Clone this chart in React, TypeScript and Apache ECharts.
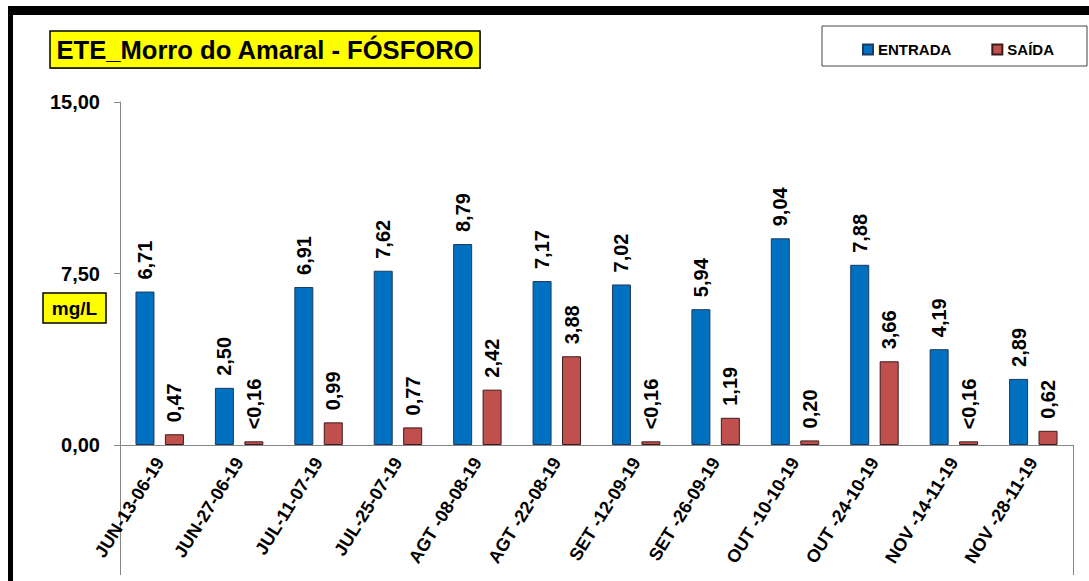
import React, { useEffect, useRef } from "react";
import * as echarts from "echarts";

const categories = [
  "JUN-13-06-19",
  "JUN-27-06-19",
  "JUL-11-07-19",
  "JUL-25-07-19",
  "AGT -08-08-19",
  "AGT -22-08-19",
  "SET -12-09-19",
  "SET -26-09-19",
  "OUT -10-10-19",
  "OUT -24-10-19",
  "NOV -14-11-19",
  "NOV -28-11-19",
];
const entrada = [6.71, 2.5, 6.91, 7.62, 8.79, 7.17, 7.02, 5.94, 9.04, 7.88, 4.19, 2.89];
const saida = [0.47, 0.16, 0.99, 0.77, 2.42, 3.88, 0.16, 1.19, 0.2, 3.66, 0.16, 0.62];
const saidaLabels = ["0,47", "<0,16", "0,99", "0,77", "2,42", "3,88", "<0,16", "1,19", "0,20", "3,66", "<0,16", "0,62"];
const seriesNames = ["ENTRADA", "SAÍDA"];
const yMin = 0;
const yMax = 15;
const yStep = 7.5;
const titleText = "ETE_Morro do Amaral - FÓSFORO";
const unitText = "mg/L";

const fmt = (v: number) => v.toFixed(2).replace(".", ",");

export default function App() {
  const ref = useRef<HTMLDivElement>(null);
  useEffect(() => {
    const chart = echarts.init(ref.current!, null, { renderer: "svg" });
    const font = 'Arial, "Liberation Sans", sans-serif';
    const labelBase = {
      show: true,
      position: "top",
      rotate: 90,
      align: "left",
      verticalAlign: "middle",
      distance: 12,
      fontSize: 20,
      fontWeight: "bold",
      color: "#000",
      fontFamily: font,
    };
    chart.setOption({
      animation: false,
      backgroundColor: "#fff",
      textStyle: { fontFamily: font },
      grid: { left: 120, right: 16, top: 102, bottom: 136, containLabel: false },
      legend: {
        left: 857,
        top: 37,
        z: 10,
        icon: "rect",
        itemWidth: 10,
        itemHeight: 10,
        itemGap: 40,
        data: seriesNames,
        textStyle: { fontSize: 15, fontWeight: "bold", color: "#000", fontFamily: font },
      },
      xAxis: {
        type: "category",
        data: categories,
        axisLine: { show: true, lineStyle: { color: "#868686", width: 1 } },
        axisTick: { show: false },
        axisLabel: {
          rotate: 58,
          interval: 0,
          fontSize: 18,
          fontWeight: "bold",
          color: "#000",
          margin: 14,
          fontFamily: font,
        },
      },
      yAxis: {
        type: "value",
        min: yMin,
        max: yMax,
        interval: yStep,
        axisLine: { show: true, lineStyle: { color: "#868686", width: 1 } },
        axisTick: { show: true, length: 6, lineStyle: { color: "#868686" } },
        splitLine: { show: false },
        axisLabel: {
          formatter: (v: number) => fmt(v),
          fontSize: 20,
          fontWeight: "bold",
          color: "#000",
          margin: 20,
          fontFamily: font,
        },
      },
      series: [
        {
          name: seriesNames[0],
          type: "bar",
          data: entrada,
          barWidth: 19,
          barGap: "55%",
          itemStyle: { color: "#0070C0", borderColor: "#1F3A5F", borderWidth: 1 },
          label: { ...labelBase, formatter: (p: any) => fmt(p.value) },
        },
        {
          name: seriesNames[1],
          type: "bar",
          data: saida,
          barWidth: 19,
          itemStyle: { color: "#C0504D", borderColor: "#3A1A1A", borderWidth: 1 },
          label: { ...labelBase, formatter: (p: any) => saidaLabels[p.dataIndex] },
        },
      ],
      graphic: [
        { type: "rect", z: 0, shape: { x: 8, y: 6, width: 1081, height: 9 }, style: { fill: "#000" } },
        { type: "rect", z: 0, shape: { x: 8, y: 6, width: 5, height: 575 }, style: { fill: "#000" } },
        { type: "rect", z: 0, shape: { x: 51, y: 32, width: 430, height: 37 }, style: { fill: "#888" } },
        { type: "rect", z: 1, shape: { x: 50, y: 31, width: 430, height: 37 }, style: { fill: "#FFFF00", stroke: "#000", lineWidth: 1.5 } },
        {
          type: "text",
          z: 2,
          x: 265,
          y: 50,
          style: { text: titleText, fill: "#000", font: `bold 25.6px ${font}`, align: "center", verticalAlign: "middle" },
        },
        { type: "rect", z: 1, shape: { x: 43, y: 293, width: 63, height: 30 }, style: { fill: "#FFFF00", stroke: "#000", lineWidth: 1.5 } },
        {
          type: "text",
          z: 2,
          x: 74.5,
          y: 308,
          style: { text: unitText, fill: "#000", font: `bold 19px ${font}`, align: "center", verticalAlign: "middle" },
        },
        { type: "rect", z: 0, shape: { x: 822, y: 26, width: 265, height: 40 }, style: { fill: "#fff", stroke: "#444", lineWidth: 1 } },
        { type: "line", z: 0, shape: { x1: 120.5, y1: 445, x2: 120.5, y2: 575 }, style: { stroke: "#868686", lineWidth: 1 } },
        { type: "line", z: 0, shape: { x1: 1073.5, y1: 445, x2: 1073.5, y2: 575 }, style: { stroke: "#868686", lineWidth: 1 } },
      ],
    });
    return () => chart.dispose();
  }, []);
  return <div ref={ref} style={{ position: "fixed", left: 0, top: 0, width: 1089, height: 581 }} />;
}
